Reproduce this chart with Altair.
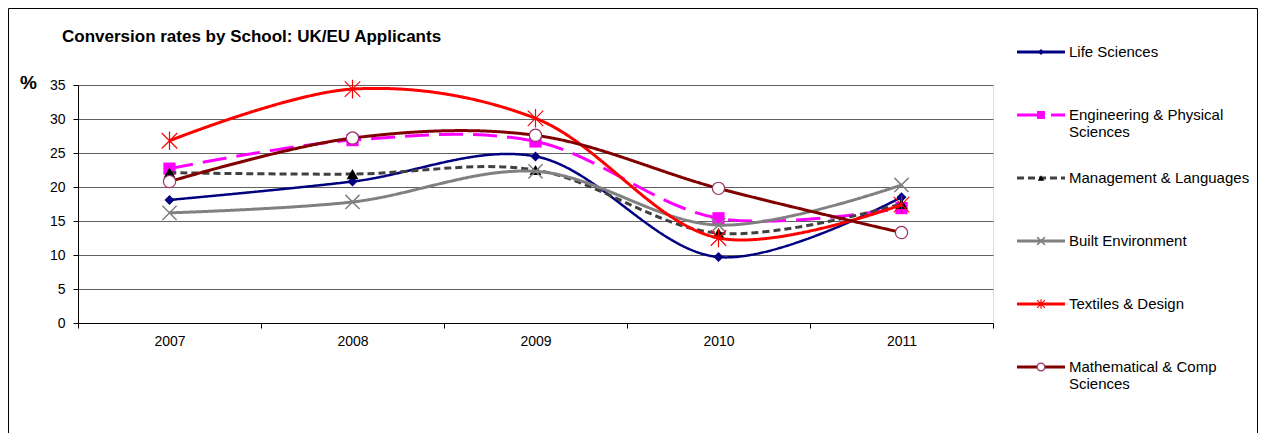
import altair as alt
import pandas as pd

years = ["2007", "2008", "2009", "2010", "2011"]
series_names = [
    "Life Sciences",
    "Engineering & Physical Sciences",
    "Management & Languages",
    "Built Environment",
    "Textiles & Design",
    "Mathematical & Comp Sciences",
]
legend_labels = [
    "Life Sciences",
    "Engineering & Physical\nSciences",
    "Management & Languages",
    "Built Environment",
    "Textiles & Design",
    "Mathematical & Comp\nSciences",
]
life_sciences = [18.1, 20.8, 24.5, 9.7, 18.5]
engineering = [22.7, 26.9, 26.7, 15.4, 16.9]
management = [22.1, 21.9, 22.5, 13.2, 17.5]
built_env = [16.2, 17.8, 22.3, 14.4, 20.3]
textiles = [26.8, 34.4, 30.1, 12.5, 17.4]
maths = [20.8, 27.2, 27.6, 19.8, 13.3]
all_values = [life_sciences, engineering, management, built_env, textiles, maths]

FONT = "Liberation Sans"
PLOT_W, PLOT_H = 915, 238

X_PATH = "M-1,-1L1,1M-1,1L1,-1"
STAR_PATH = "M-1,-1L1,1M-1,1L1,-1M0,-1.2L0,1.2"

styles = [
    dict(color="#000080", width=2.5, dash=[1, 0], shape="diamond", size=100, filled=True,
         fill="#000080", stroke="#000080", sw=0, lsize=36),
    dict(color="#FF00FF", width=3, dash=[24, 10], shape="square", size=150, filled=True,
         fill="#FF00FF", stroke="#FF00FF", sw=0, lsize=64),
    dict(color="#404040", width=3, dash=[7, 4], shape="triangle-up", size=140, filled=True,
         fill="#000000", stroke="#000000", sw=0, lsize=40),
    dict(color="#808080", width=3, dash=[1, 0], shape=X_PATH, size=200, filled=False,
         fill="none", stroke="#808080", sw=1.5, lsize=60),
    dict(color="#FF0000", width=3, dash=[1, 0], shape=STAR_PATH, size=240, filled=False,
         fill="none", stroke="#FF0000", sw=1.2, lsize=60),
    dict(color="#800000", width=3, dash=[1, 0], shape="circle", size=150, filled=True,
         fill="#FFFFFF", stroke="#993366", sw=1.2, lsize=60),
]

xscale = alt.Scale(type="band", domain=years, paddingInner=0, paddingOuter=0)
yscale = alt.Scale(domain=[0, 35], nice=False, zero=True)

x_axis = alt.Axis(
    title=None, labelAngle=0, tickBand="extent", grid=False,
    domainColor="#000000", tickColor="#000000", tickSize=5,
    labelPadding=6, labelFont=FONT, labelFontSize=14, labelColor="#000000",
)
y_axis = alt.Axis(
    title="%", titleAngle=0, titleX=-50, titleY=-3, titleAlign="center",
    titleBaseline="middle", titleFont=FONT, titleFontSize=19, titleFontWeight="bold",
    titleColor="#000000",
    values=[0, 5, 10, 15, 20, 25, 30, 35], grid=True, gridColor="#606060", gridWidth=1,
    domainColor="#000000", tickColor="#000000", tickSize=5, labelPadding=8,
    labelFont=FONT, labelFontSize=14, labelColor="#000000",
)

x_enc = alt.X("year:O", scale=xscale, axis=x_axis)
y_enc = alt.Y("value:Q", scale=yscale, axis=y_axis)

layers = []
for i, (name, vals, st) in enumerate(zip(series_names, all_values, styles)):
    df = pd.DataFrame({"year": years, "value": vals, "series": name})
    base = alt.Chart(df)
    line = base.mark_line(
        color=st["color"], strokeWidth=st["width"], strokeDash=st["dash"],
        interpolate="catmull-rom",
    ).encode(x=x_enc, y=y_enc)
    pt_kwargs = dict(shape=st["shape"], size=st["size"], filled=st["filled"], opacity=1)
    if st["filled"]:
        pt_kwargs.update(fill=st["fill"], stroke=st["stroke"], strokeWidth=st["sw"])
    else:
        pt_kwargs.update(stroke=st["stroke"], strokeWidth=st["sw"])
    pts = base.mark_point(**pt_kwargs).encode(x=x_enc, y=y_enc)
    layers.append(line)
    layers.append(pts)

main = alt.layer(*layers)

# Legend (drawn as marks, positioned by an ordinal scale over the series)
leg_y_scale = alt.Scale(type="point", domain=series_names, range=[-33, 282], padding=0)
leg_layers = []
for name, lab, st in zip(series_names, legend_labels, styles):
    ldf = pd.DataFrame({"series": [name], "label": [lab]})
    lb = alt.Chart(ldf)
    yl = alt.Y("series:N", scale=leg_y_scale, axis=None)
    rule = lb.mark_rule(
        color=st["color"], strokeWidth=3, strokeDash=st["dash"],
    ).encode(x=alt.value(939), x2=alt.value(987), y=yl)
    pk = dict(shape=st["shape"], size=st["lsize"], filled=st["filled"], opacity=1)
    if st["filled"]:
        pk.update(fill=st["fill"], stroke=st["stroke"], strokeWidth=st["sw"])
    else:
        pk.update(stroke=st["stroke"], strokeWidth=st["sw"])
    mk = lb.mark_point(**pk).encode(x=alt.value(963), y=yl)
    txt = lb.mark_text(
        align="left", baseline="alphabetic", dy=5, font=FONT, fontSize=15,
        color="#000000", lineBreak="\n", lineHeight=17,
    ).encode(x=alt.value(991), y=yl, text="label:N")
    leg_layers += [rule, mk, txt]
legend = alt.layer(*leg_layers)

title_df = pd.DataFrame({"t": ["Conversion rates by School: UK/EU Applicants"]})
title = alt.Chart(title_df).mark_text(
    align="left", baseline="alphabetic", font=FONT, fontSize=17, fontWeight="bold",
    color="#000000",
).encode(x=alt.value(-16), y=alt.value(-43), text="t:N")

frame = alt.Chart(title_df).mark_rect(
    fill="transparent", stroke="#000000", strokeWidth=1,
).encode(x=alt.value(-69.5), x2=alt.value(1179.5), y=alt.value(-76.5), y2=alt.value(400))

chart = alt.layer(main, legend, title, frame).resolve_scale(y="independent").properties(
    width=PLOT_W, height=PLOT_H,
    autosize="none",
    padding={"left": 70, "top": 77, "right": 265, "bottom": 110},
).configure_view(strokeWidth=0, stroke="transparent").configure(background="#FFFFFF")

chart.save("out.html", embed_options={"renderer": "svg", "actions": False})
